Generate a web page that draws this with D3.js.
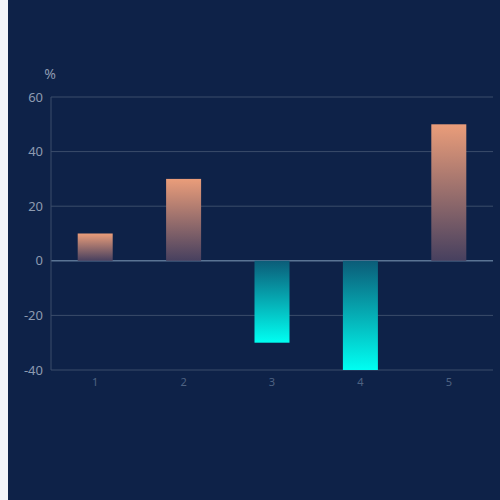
<!DOCTYPE html>
<html><head><meta charset="utf-8">
<script src="https://cdn.jsdelivr.net/npm/d3@7"></script>
<style>body{margin:0;background:#f2f4f8;}</style>
</head><body><div id="chart"></div>
<script>
const categories = ['1', '2', '3', '4', '5'];
const values = [10, 30, -30, -40, 50];
const yTicks = [-40, -20, 0, 20, 40, 60];

const W = 500, H = 500;
const m = {left: 51, right: 7, top: 97, bottom: 130};
const svg = d3.select('#chart').append('svg').attr('width', W).attr('height', H)
  .style('font-family', '"Microsoft YaHei", "Noto Sans", sans-serif');
svg.append('rect').attr('x', 8).attr('y', 0).attr('width', W - 8).attr('height', H).attr('fill', '#0e2248');

const defs = svg.append('defs');
const gp = defs.append('linearGradient').attr('id', 'gpos').attr('x1', 0).attr('y1', 0).attr('x2', 0).attr('y2', 1);
gp.append('stop').attr('offset', '0%').attr('stop-color', '#ea9d7a');
gp.append('stop').attr('offset', '100%').attr('stop-color', '#47405f');
const gn = defs.append('linearGradient').attr('id', 'gneg').attr('x1', 0).attr('y1', 0).attr('x2', 0).attr('y2', 1);
gn.append('stop').attr('offset', '0%').attr('stop-color', '#0b5c78');
gn.append('stop').attr('offset', '100%').attr('stop-color', '#00fff2');

const x = d3.scaleBand().domain(categories).range([m.left, W - m.right]);
const y = d3.scaleLinear().domain([-40, 60]).range([H - m.bottom, m.top]);

svg.append('g').selectAll('line').data(yTicks).join('line')
  .attr('x1', m.left).attr('x2', W - m.right)
  .attr('y1', d => y(d)).attr('y2', d => y(d))
  .attr('stroke', d => d === 0 ? '#5a7494' : '#3b4d6b').attr('stroke-width', d => d === 0 ? 1.5 : 1);
svg.append('line').attr('x1', m.left).attr('x2', m.left).attr('y1', m.top).attr('y2', y(-40)).attr('stroke', '#3b4d6b');

svg.append('g').selectAll('text').data(yTicks).join('text')
  .attr('x', m.left - 8).attr('y', d => y(d)).attr('dy', '0.35em')
  .attr('text-anchor', 'end').attr('fill', '#8d9ab0').attr('font-size', 13).text(d => d);
svg.append('text').attr('x', 50).attr('y', 79).attr('text-anchor', 'middle')
  .attr('fill', '#8d9ab0').attr('font-size', 14).text('%');

svg.append('g').selectAll('text').data(categories).join('text')
  .attr('x', d => x(d) + x.bandwidth() / 2).attr('y', y(-40) + 16)
  .attr('text-anchor', 'middle').attr('fill', '#4e6282').attr('font-size', 11).text(d => d);

const bw = 35;
svg.append('g').selectAll('rect').data(values).join('rect')
  .attr('x', (d, i) => x(categories[i]) + x.bandwidth() / 2 - bw / 2)
  .attr('width', bw)
  .attr('y', d => y(Math.max(d, 0)))
  .attr('height', d => Math.abs(y(d) - y(0)))
  .attr('fill', d => d >= 0 ? 'url(#gpos)' : 'url(#gneg)');
</script></body></html>
